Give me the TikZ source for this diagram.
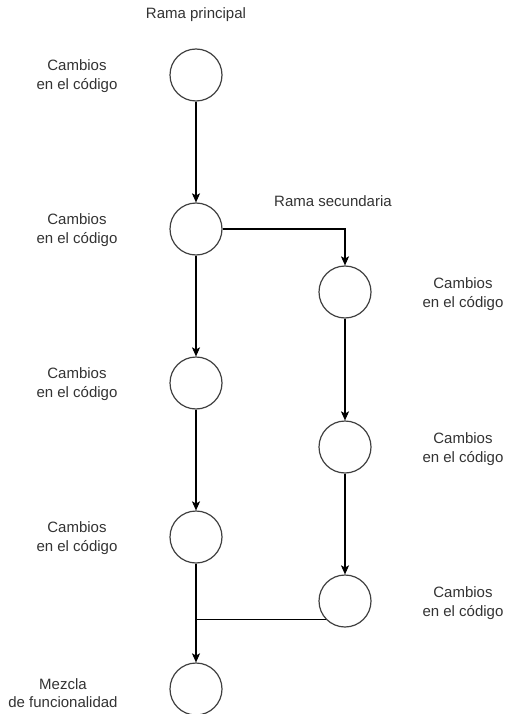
\documentclass[tikz,border=0pt]{standalone}
\usepackage{fontspec}
\setmainfont{Liberation Sans}
\usetikzlibrary{arrows.meta, positioning}
\tikzset{
	commit/.style={draw=black!75, circle, line width=1.2pt, minimum size=52pt, inner sep=0pt},
	flow/.style={-{Stealth[length=9pt, width=8pt, inset=2pt]}, line width=1.1pt},
	joinline/.style={line width=1.1pt},
	changelbl/.style={align=center, font=\fontsize{15}{18.5}\selectfont, text=black!80},
}

\begin{document}
\begin{tikzpicture}[x=1pt, y=1pt]
	\useasboundingbox (0,0) rectangle (504,-714);
	\clip (0,0) rectangle (504,-714);
	% Main branch commits
	\node[commit] (m1) at (196,-75) {};
	\node[commit] (m2) at (196,-229) {};
	\node[commit] (m3) at (196,-383) {};
	\node[commit] (m4) at (196,-537) {};
	\node[commit] (m5) at (196,-689) {};
	% Secondary branch commits
	\node[commit] (r1) at (345,-292) {};
	\node[commit] (r2) at (345,-447) {};
	\node[commit] (r3) at (345,-601) {};
	% Branch titles
	\node[changelbl] (mainlbl) at (196,-15) {Rama principal};
	\node[changelbl] (seclbl) at (333,-201) {Rama secundaria};
	% Labels next to the commits
	\node[changelbl] (l1) at (77,-76) {Cambios\\en el código};
	\node[changelbl] (l2) at (77,-230) {Cambios\\en el código};
	\node[changelbl] (l3) at (77,-384) {Cambios\\en el código};
	\node[changelbl] (l4) at (77,-538) {Cambios\\en el código};
	\node[changelbl] (l5) at (63,-693) {Mezcla\\de funcionalidad};
	\node[changelbl] (k1) at (463,-294) {Cambios\\en el código};
	\node[changelbl] (k2) at (463,-449) {Cambios\\en el código};
	\node[changelbl] (k3) at (463,-603) {Cambios\\en el código};
	% Arrows
	\draw[flow] (m1) -- (m2);
	\draw[flow] (m2) -- (m3);
	\draw[flow] (m3) -- (m4);
	\draw[flow] (m4) -- (m5);
	\draw[flow] (m2) -| (r1);
	\draw[flow] (r1) -- (r2);
	\draw[flow] (r2) -- (r3);
	% Merge back
	\draw[joinline] (r3.224) -- (r3.224 -| m4);
\end{tikzpicture}
\end{document}
